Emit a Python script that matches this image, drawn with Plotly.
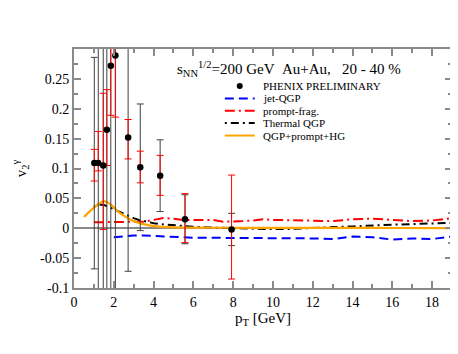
import plotly.graph_objects as go

# ---------------- data ----------------
pt_data = [1.02, 1.22, 1.47, 1.65, 1.85, 2.08, 2.72, 3.33, 4.33, 5.58, 7.92]
v2_data = [0.109, 0.109, 0.105, 0.165, 0.272, 0.289, 0.152, 0.102, 0.088, 0.015, -0.002]
stat_err = [0.177, 0.25, 0.28, 0.30, 0.40, 0.40, 0.224, 0.106, 0.060, 0.041, 0.027]
syst_plus = [0.023, 0.053, 0.121, 0.067, 0.083, 0.103, 0.030, 0.027, 0.034, 0.043, 0.091]
syst_minus = [0.030, 0.013, 0.107, 0.060, 0.083, 0.103, 0.036, 0.026, 0.033, 0.039, 0.083]

pt_jet = [2.0, 2.5, 3.0, 3.5, 4.0, 4.5, 5.0, 6.0, 7.0, 8.0, 9.0, 10.0, 11.0, 12.0, 13.0, 14.0, 15.0, 16.0, 17.0, 18.0, 19.0]
v2_jet = [-0.015, -0.013, -0.012, -0.012, -0.013, -0.014, -0.015, -0.016, -0.016, -0.016, -0.016, -0.016, -0.016,
          -0.017, -0.018, -0.014, -0.015, -0.019, -0.017, -0.018, -0.014]

pt_prompt = [1.0, 1.5, 2.0, 2.5, 3.0, 3.5, 4.0, 4.5, 5.0, 5.5, 6.0, 6.5, 7.0, 7.5, 8.0, 8.5, 9.0, 9.5, 10.0,
             11.0, 12.0, 13.0, 14.0, 15.0, 16.0, 17.0, 18.0, 19.0]
v2_prompt = [0.010, 0.010, 0.010, 0.010, 0.010, 0.011, 0.014, 0.017, 0.016, 0.014, 0.014, 0.014, 0.014, 0.011,
             0.011, 0.012, 0.013, 0.015, 0.014, 0.013, 0.012, 0.012, 0.015, 0.016, 0.014, 0.012, 0.013, 0.017]

pt_thermal = [1.0, 1.25, 1.5, 1.75, 2.0, 2.25, 2.5, 2.75, 3.0, 3.25, 3.5, 3.75, 4.0, 4.5, 5.0, 5.5, 6.0, 7.0, 8.0,
              9.0, 10.0, 11.0, 12.0, 13.0, 14.0, 15.0, 16.0, 17.0, 18.0, 19.0]
v2_thermal = [0.036, 0.040, 0.039, 0.036, 0.032, 0.028, 0.024, 0.020, 0.017, 0.014, 0.012, 0.010, 0.0085, 0.0065,
              0.005, 0.004, 0.0025, 0.001, 0.0, -0.001, -0.0015, -0.001, 0.001, 0.002, 0.003, 0.005, 0.006, 0.007,
              0.008, 0.009]

pt_total = [0.5, 0.75, 1.0, 1.25, 1.5, 1.75, 2.0, 2.25, 2.5, 2.75, 3.0, 3.25, 3.5, 4.0, 4.5, 5.0, 6.0, 8.0, 10.0,
            12.0, 14.0, 16.0, 19.0]
v2_total = [0.019, 0.027, 0.034, 0.041, 0.0455, 0.042, 0.035, 0.027, 0.021, 0.016, 0.012, 0.009, 0.0068, 0.0035,
            0.0022, 0.0015, 0.001, 0.0008, 0.0006, 0.0005, 0.0005, 0.0004, 0.0003]

x_ticks = [0, 2, 4, 6, 8, 10, 12, 14, 16, 18]
x_ticklabels = ["0", "2", "4", "6", "8", "10", "12", "14", "16", "18"]
y_ticks = [-0.1, -0.05, 0, 0.05, 0.1, 0.15, 0.2, 0.25]
y_ticklabels = ["-0.1", "-0.05", "0", "0.05", "0.1", "0.15", "0.2", "0.25"]

legend_names = ["PHENIX PRELIMINARY", "jet-QGP", "prompt-frag.", "Thermal QGP", "QGP+prompt+HG"]

SERIF = "Liberation Serif"
AX = "#8a8a8a"

BLUE_DASH = "9px,5px"
RED_DASH = "10px,4px,2px,4px"
BLK_DASH = "2px,4px,8px,4px"

fig = go.Figure()

# theory curves
fig.add_trace(go.Scatter(x=pt_jet, y=v2_jet, mode="lines", name=legend_names[1], showlegend=False,
                         line=dict(color="#0000ff", width=2, dash=BLUE_DASH)))
fig.add_trace(go.Scatter(x=pt_prompt, y=v2_prompt, mode="lines", name=legend_names[2], showlegend=False,
                         line=dict(color="#ff0000", width=2, dash=RED_DASH)))
fig.add_trace(go.Scatter(x=pt_thermal, y=v2_thermal, mode="lines", name=legend_names[3], showlegend=False,
                         line=dict(color="#000000", width=2, dash=BLK_DASH)))
fig.add_trace(go.Scatter(x=pt_total, y=v2_total, mode="lines", name=legend_names[4], showlegend=False,
                         line=dict(color="#ffa500", width=2.2, shape="spline")))

# data: statistical (black) bars
fig.add_trace(go.Scatter(x=pt_data, y=v2_data, mode="markers", showlegend=False, hoverinfo="skip",
                         marker=dict(size=1, color="rgba(0,0,0,0)"),
                         error_y=dict(type="data", array=stat_err, color="#404040", thickness=1, width=3.5)))
# data: systematic (red) bars
fig.add_trace(go.Scatter(x=pt_data, y=v2_data, mode="markers", showlegend=False, hoverinfo="skip",
                         marker=dict(size=1, color="rgba(0,0,0,0)"),
                         error_y=dict(type="data", symmetric=False, array=syst_plus, arrayminus=syst_minus,
                                      color="#ff0000", thickness=1, width=3.5)))
# data points
fig.add_trace(go.Scatter(x=pt_data, y=v2_data, mode="markers", name=legend_names[0], showlegend=False,
                         marker=dict(size=6.5, color="#000000")))

# ----- compact legend (paper coordinates) -----
row_y = [0.845, 0.793, 0.742, 0.690, 0.638]
sx0, sx1, tx = 0.399, 0.478, 0.494
shapes = []
annotations = []
shapes.append(dict(type="circle", xref="paper", yref="paper", xsizemode="pixel", ysizemode="pixel",
                   xanchor=(sx0 + sx1) / 2, yanchor=row_y[0], x0=-3, x1=3, y0=-3, y1=3,
                   fillcolor="#000000", line=dict(width=0)))
styles = [("#0000ff", BLUE_DASH), ("#ff0000", RED_DASH), ("#000000", BLK_DASH), ("#ffa500", "solid")]
for i, (c, d) in enumerate(styles):
    shapes.append(dict(type="line", xref="paper", yref="paper", x0=sx0, x1=sx1, y0=row_y[i + 1], y1=row_y[i + 1],
                       line=dict(color=c, width=2, dash=d)))
for name, yy in zip(legend_names, row_y):
    annotations.append(dict(x=tx, y=yy, xref="paper", yref="paper", text=name, showarrow=False,
                            xanchor="left", yanchor="middle", font=dict(family=SERIF, size=11, color="#000")))

annotations.append(dict(x=0.268, y=0.915, xref="paper", yref="paper", xanchor="left", yanchor="middle",
                        showarrow=False,
                        text="s<sub>NN</sub><sup>1/2</sup>=200 GeV\u00a0\u00a0Au+Au,\u00a0\u00a0\u00a020 - 40 %",
                        font=dict(family=SERIF, size=15, color="#000")))

fig.update_layout(
    width=458, height=354,
    margin=dict(l=65, r=13, t=41, b=74),
    paper_bgcolor="white", plot_bgcolor="white",
    font=dict(family=SERIF, size=14, color="#000"),
    shapes=shapes, annotations=annotations,
    showlegend=False,
)
fig.update_xaxes(range=[0, 19], tickvals=x_ticks, ticktext=x_ticklabels,
                 showgrid=False, zeroline=False, showline=True, linecolor=AX, linewidth=2, mirror="ticks",
                 ticks="inside", ticklen=7, tickcolor=AX, tickwidth=1.5,
                 minor=dict(ticks="inside", dtick=1, ticklen=4, tickcolor=AX, tickwidth=1.5, showgrid=False),
                 tickfont=dict(family=SERIF, size=14, color="#000"),
                 title=dict(text="p<sub>T</sub> [GeV]", font=dict(family=SERIF, size=15, color="#000"), standoff=2))
fig.update_yaxes(range=[-0.1, 0.3], tickvals=y_ticks, ticktext=y_ticklabels,
                 showgrid=False, zeroline=True, zerolinecolor=AX, zerolinewidth=1.5,
                 showline=True, linecolor=AX, linewidth=2, mirror="ticks",
                 ticks="inside", ticklen=7, tickcolor=AX, tickwidth=1.5,
                 minor=dict(ticks="inside", dtick=0.025, ticklen=4, tickcolor=AX, tickwidth=1.5, showgrid=False),
                 tickfont=dict(family=SERIF, size=14, color="#000"),
                 title=dict(text="v<sub>2</sub><sup>γ</sup>", font=dict(family=SERIF, size=15, color="#000"), standoff=10))

fig.write_html("out.html")
